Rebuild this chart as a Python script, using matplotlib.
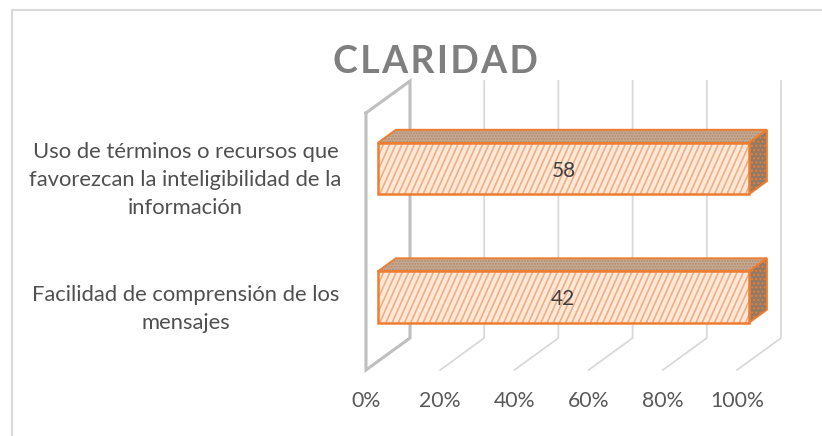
import matplotlib
matplotlib.use("Agg")
import matplotlib.pyplot as plt
import matplotlib.transforms as mtrans
from matplotlib.patches import Polygon
import numpy as np

plt.rcParams['font.family'] = ['Lato', 'DejaVu Sans']
plt.rcParams['hatch.linewidth'] = 1.0

title = "C\u200aL\u200aA\u200aR\u200aI\u200aD\u200aA\u200aD"
categories = [
    "Facilidad de comprensión de los\nmensajes",
    "Uso de términos o recursos que\nfavorezcan la inteligibilidad de la\ninformación",
]
values = [42, 58]
x_ticks = [0, 20, 40, 60, 80, 100]

W, H = 822, 436
fig = plt.figure(figsize=(W / 100, H / 100), dpi=100)
fig.patch.set_facecolor("white")

# front plane of the 3d box is the axes, back plane is shifted by depth
ax = fig.add_axes([366 / W, 1 - 370 / H, 371 / W, 257 / H])
ax.set_xlim(0, 100)
ax.set_ylim(0, 2)
ax.patch.set_visible(False)
for s in ax.spines.values():
    s.set_visible(False)

dx = 44 / 371 * 100
dy = 32 / 257 * 2


def shift(x, y, d):
    return x + d * dx, y + d * dy


grid_col = "#d9d9d9"
wall_col = "#bfbfbf"

# walls and gridlines
for t in x_ticks[1:]:
    bx0, by0 = shift(t, 0, 1)
    bx1, by1 = shift(t, 2, 1)
    ax.plot([t, bx0, bx1], [0, by0, by1], color=grid_col, lw=1.3, clip_on=False, zorder=1)
bx0, by0 = shift(0, 0, 1)
bx1, by1 = shift(0, 2, 1)
ax.plot([0, 0, bx0, bx1, 0], [2, 0, by0, by1, 2], color=wall_col, lw=2.2,
        clip_on=False, zorder=2, solid_joinstyle="miter")

# bars, 100% stacked with one series so every bar fills the axis
bar_h = 0.4
d0, d1 = 0.27, 0.68
orange = "#ed7d31"
stripe_step = 6.2 / 371 * 100
stripe_run = 23 / 371 * 100
for i, v in enumerate(values):
    pct = v / v * 100
    yc = i + 0.5
    y0, y1 = yc - bar_h / 2, yc + bar_h / 2
    top = [shift(0, y1, d0), shift(pct, y1, d0), shift(pct, y1, d1), shift(0, y1, d1)]
    side = [shift(pct, y0, d0), shift(pct, y1, d0), shift(pct, y1, d1), shift(pct, y0, d1)]
    front = [shift(0, y0, d0), shift(pct, y0, d0), shift(pct, y1, d0), shift(0, y1, d0)]
    ax.add_patch(Polygon(top, closed=True, facecolor="#c9ab94", edgecolor="#ac8a6f",
                         lw=0, hatch="......", clip_on=False, zorder=3))
    ax.add_patch(Polygon(top, closed=True, fill=False, edgecolor=orange, lw=1.4,
                         clip_on=False, zorder=3))
    ax.add_patch(Polygon(side, closed=True, facecolor="#8f7a68", edgecolor=orange,
                         lw=1.4, hatch="....", clip_on=False, zorder=3))
    face = Polygon(front, closed=True, facecolor="#fde9dc", edgecolor="none",
                   clip_on=False, zorder=4)
    ax.add_patch(face)
    # steep pattern stripes, clipped to the front face
    for s in np.arange(-stripe_run, pct + stripe_run, stripe_step):
        x_a, y_a = shift(s, y0, d0)
        x_b, y_b = shift(s + stripe_run, y1, d0)
        stripe, = ax.plot([x_a, x_b], [y_a, y_b], color="#f6ad7b", lw=1.2, zorder=4)
        stripe.set_clip_box(None)
        stripe.set_clip_path(face)
    ax.add_patch(Polygon(front, closed=True, fill=False, edgecolor=orange, lw=1.8,
                         clip_on=False, zorder=4))
    lx, ly = shift(pct / 2, yc, d0)
    ax.annotate(str(v), (lx, ly), xytext=(0, -1.5), textcoords="offset points",
                ha="center", va="center", fontsize=15, color="#404040", zorder=5)

ax.set_xticks(x_ticks)
ax.set_xticklabels([f"{t}%" for t in x_ticks], fontsize=15.3, color="#595959")
ax.set_yticks([i + 0.5 for i in range(len(categories))])
ax.set_yticklabels(categories, fontsize=15.8, color="#505050", ha="center",
                   multialignment="center", linespacing=1.5)
ax.tick_params(axis="x", length=0, pad=15)
ax.tick_params(axis="y", length=0, pad=130)

# nudge category labels up a little
nudge = mtrans.ScaledTranslation(0, 2 / 72, fig.dpi_scale_trans)
for lab in ax.get_yticklabels():
    lab.set_transform(lab.get_transform() + nudge)

fig.text(435 / W, 1 - 62 / H, title, ha="center", va="center", fontsize=27,
         fontweight="bold", color="#7f7f7f", zorder=10)

# chart frame, only the top and left edges show in the picture
fig.add_artist(plt.Line2D([12 / W, 12 / W], [0, 1 - 10 / H], color="#d9d9d9", lw=1.5))
fig.add_artist(plt.Line2D([12 / W, 1], [1 - 10 / H, 1 - 10 / H], color="#d9d9d9", lw=1.5))

fig.savefig("out.png", dpi=100)
